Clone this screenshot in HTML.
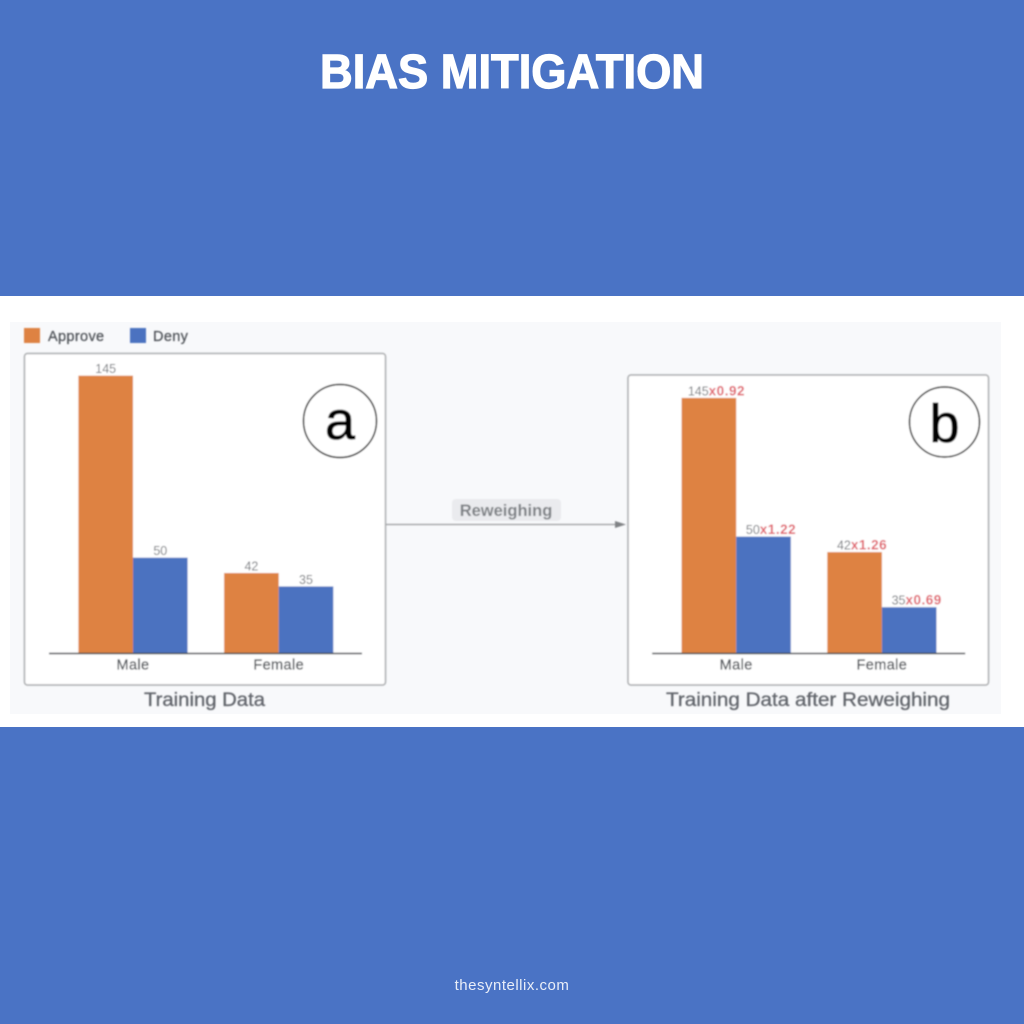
<!DOCTYPE html>
<html lang="en">
<head>
<meta charset="utf-8">
<title>Bias Mitigation</title>
<style>
html,body{margin:0;padding:0;width:1024px;height:1024px;overflow:hidden;background:#4a73c5}
svg{display:block}
text{font-family:"Liberation Sans",sans-serif}
.bl{filter:url(#soft)}
</style>
</head>
<body>
<svg id="root" xmlns="http://www.w3.org/2000/svg" width="1024" height="1024" viewBox="0 0 1024 1024">
  <defs>
    <filter id="soft" x="-5%" y="-5%" width="110%" height="110%"><feGaussianBlur stdDeviation="0.75"/></filter>
  </defs>
  <rect x="0" y="0" width="1024" height="1024" fill="#4a73c5"/>
  <text x="512" y="88" text-anchor="middle" font-size="48" font-weight="700" fill="#ffffff" stroke="#ffffff" stroke-width="1.2" textLength="384" lengthAdjust="spacingAndGlyphs">BIAS MITIGATION</text>
  <rect x="0" y="296" width="1024" height="431" fill="#ffffff"/>
  <rect x="10" y="322" width="991" height="392" fill="#f8f9fb"/>

  <g class="bl">
    <rect x="24" y="328" width="16" height="15" fill="#de8243"/>
    <text x="48" y="341" font-size="14.500" letter-spacing="0.35" fill="#4d5156" stroke="#4d5156" stroke-width="0.25">Approve</text>
    <rect x="130" y="328" width="16" height="15" fill="#4c72c0"/>
    <text x="153" y="341" font-size="14.500" letter-spacing="0.35" fill="#4d5156" stroke="#4d5156" stroke-width="0.25">Deny</text>

    <rect x="24.500" y="353.500" width="361" height="331.500" rx="3" fill="#ffffff" stroke="#a9abad" stroke-width="1.5"/>
    <rect x="628" y="375" width="360.500" height="310" rx="3" fill="#ffffff" stroke="#a9abad" stroke-width="1.5"/>

    <g id="chart-a"></g>
    <g id="chart-b"></g>

    <circle cx="340" cy="421" r="36.500" fill="#ffffff" stroke="#111111" stroke-width="1.5"/>
    <text x="340" y="439" text-anchor="middle" font-size="54" fill="#000000" stroke="#000000" stroke-width="0.8">a</text>
    <circle cx="944.500" cy="422" r="35" fill="#ffffff" stroke="#111111" stroke-width="1.5"/>
    <text x="944.500" y="442" text-anchor="middle" font-size="54" fill="#000000" stroke="#000000" stroke-width="0.8">b</text>

    <text x="204.500" y="706" text-anchor="middle" font-size="19" fill="#60646a" stroke="#60646a" stroke-width="0.3" textLength="121" lengthAdjust="spacingAndGlyphs">Training Data</text>
    <text x="808" y="706" text-anchor="middle" font-size="19" fill="#60646a" stroke="#60646a" stroke-width="0.3" textLength="284" lengthAdjust="spacingAndGlyphs">Training Data after Reweighing</text>

    <line x1="386" y1="524.500" x2="617" y2="524.500" stroke="#9a9c9f" stroke-width="1.2"/>
    <polygon points="615,521 626,524.500 615,528" fill="#808285"/>
    <rect x="452" y="499" width="109" height="22" rx="4" fill="#eaebee"/>
    <text x="506" y="516" text-anchor="middle" font-size="16.500" font-weight="700" fill="#7d8084">Reweighing</text>
  </g>

  <text x="512" y="990" text-anchor="middle" font-size="15" fill="#e9eef8" letter-spacing="0.5">thesyntellix.com</text>

<script>
var categories = ['Male', 'Female'];
var approveCounts = [145, 42];
var denyCounts = [50, 35];
var approveWeights = [0.92, 1.26];
var denyWeights = [1.22, 0.69];

var NS = 'http://www.w3.org/2000/svg';
var pxPerUnit = 1.916;
var barWidth = 54.6;
var baselineY = 653.5;
var colors = { approve: '#de8243', deny: '#4c72c0' };

function yScale(value) {
  return baselineY - value * pxPerUnit;
}

function groupCentre(originX, index) {
  return originX + 84 + index * 145.7;
}

function addBar(parent, x, value, fill, name) {
  var r = document.createElementNS(NS, 'rect');
  r.setAttribute('x', x);
  r.setAttribute('y', yScale(value));
  r.setAttribute('width', barWidth);
  r.setAttribute('height', baselineY - yScale(value));
  r.setAttribute('fill', fill);
  
  
  parent.appendChild(r);
}

function addValueLabel(parent, cx, value, count, weight, name) {
  var t = document.createElementNS(NS, 'text');
  t.setAttribute('x', weight !== null ? cx + 7.5 : cx);
  t.setAttribute('y', yScale(value) - 2.5);
  t.setAttribute('text-anchor', 'middle');
  t.setAttribute('font-size', '12.5');
  t.setAttribute('fill', '#74777c');
  
  
  t.appendChild(document.createTextNode(String(count)));
  if (weight !== null) {
    var s = document.createElementNS(NS, 'tspan');
    s.setAttribute('fill', '#e0606a');
    s.setAttribute('font-weight', '700');
    s.setAttribute('font-size', '13.5');
    s.setAttribute('letter-spacing', '0.5');
    s.textContent = 'x' + weight.toFixed(2);
    t.appendChild(s);
  }
  parent.appendChild(t);
}

function drawChart(parentId, originX, useWeights) {
  var g = document.getElementById(parentId);
  var axis = document.createElementNS(NS, 'line');
  axis.setAttribute('x1', originX);
  axis.setAttribute('x2', originX + 313);
  axis.setAttribute('y1', baselineY);
  axis.setAttribute('y2', baselineY);
  axis.setAttribute('stroke', '#45484c');
  axis.setAttribute('stroke-width', '1.4');
  
  

  categories.forEach(function (cat, i) {
    var c = groupCentre(originX, i);
    var wa = useWeights ? approveWeights[i] : 1;
    var wd = useWeights ? denyWeights[i] : 1;
    var key = cat.toLowerCase();
    addBar(g, c - barWidth, approveCounts[i] * wa, colors.approve, 'bar-approve-' + key);
    addBar(g, c, denyCounts[i] * wd, colors.deny, 'bar-deny-' + key);
    addValueLabel(g, c - barWidth / 2, approveCounts[i] * wa, approveCounts[i], useWeights ? approveWeights[i] : null, 'value-approve-' + key);
    addValueLabel(g, c + barWidth / 2, denyCounts[i] * wd, denyCounts[i], useWeights ? denyWeights[i] : null, 'value-deny-' + key);

    var tick = document.createElementNS(NS, 'text');
    tick.setAttribute('x', c);
    tick.setAttribute('y', 669.5);
    tick.setAttribute('text-anchor', 'middle');
    tick.setAttribute('font-size', '14.5');
    tick.setAttribute('letter-spacing', '0.4');
    tick.setAttribute('fill', '#4d5156');
    tick.setAttribute('stroke', '#4d5156');
    tick.setAttribute('stroke-width', '0.25');
    
    
    tick.textContent = cat;
    g.appendChild(tick);
  });
  g.appendChild(axis);
}

drawChart('chart-a', 49, false);
drawChart('chart-b', 652.2, true);
</script>
</svg>
</body>
</html>
